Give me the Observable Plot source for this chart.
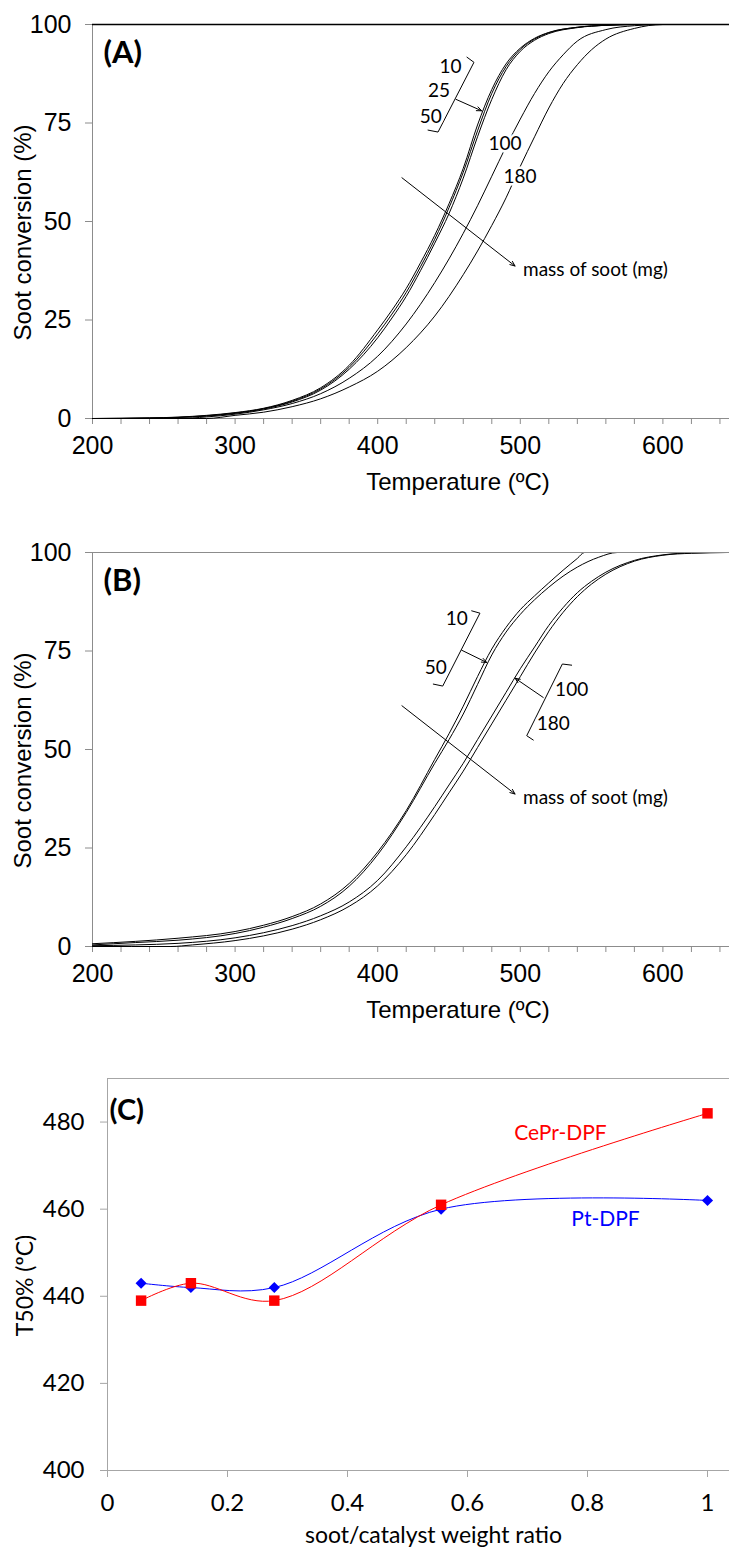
<!DOCTYPE html>
<html><head><meta charset="utf-8">
<script src="https://cdn.jsdelivr.net/npm/d3@7"></script>
<script src="https://cdn.jsdelivr.net/npm/@observablehq/plot@0.6"></script>
<style>
body{margin:0;background:#fff;}
#wrap{position:relative;width:729px;height:1548px;overflow:hidden;background:#fff;}
.panel{position:absolute;left:0;}
</style></head><body><div id="wrap"></div>
<script>
// ---------- Panel A: soot conversion (%) vs temperature (ºC), mass of soot (mg)
const A10_T = [200,240,260,280,300,320,340,360,380,400,410,420,430,440,450,460,470,480,490,500,510,520,540,560,580,646];
const A10_C = [0,0.15,0.35,0.8,1.5,2.6,4.6,7.8,13.5,22.5,27.5,33,39.5,46.5,54.5,63.5,74.5,83.5,90,94,96.5,98,99.3,99.8,100,100];
const A25_T = [200,240,260,280,300,320,340,360,380,400,410,420,430,440,450,460,470,480,490,500,510,520,540,560,580,646];
const A25_C = [0,0.12,0.3,0.7,1.4,2.5,4.4,7.5,13,21.5,26.5,32,38.5,45.5,53.5,62.5,73,82.5,89.3,93.7,96.3,97.9,99.3,99.8,100,100];
const A50_T = [200,240,260,280,300,320,340,360,380,400,410,420,430,440,450,460,470,480,490,500,510,520,540,560,580,646];
const A50_C = [0,0.1,0.25,0.6,1.3,2.4,4.2,7.2,12.5,20.5,25.5,31,37.5,44.5,52,61,71.5,81,88.5,93.2,96,97.7,99.2,99.8,100,100];
const A100_T = [200,260,280,300,320,340,360,380,400,420,440,450,460,470,480,490,500,510,520,530,540,560,580,600,646];
const A100_C = [0,0,0.4,1.1,2.2,3.8,6.3,10.2,15.8,24,34.5,40.5,47,54,61.5,69,76,82.5,88,92.3,95.8,98.7,99.7,100,100];
const A180_T = [200,280,300,320,340,360,380,400,420,440,460,470,480,490,500,510,520,530,540,550,560,580,600,646];
const A180_C = [0,0,0.8,1.6,3,5,8,12,18,26,36.5,42.5,49,56,64,71.5,78.8,85,89.8,93.6,96.3,99,100,100];

// ---------- Panel B
const B10_T = [200,230,260,300,320,340,360,380,400,420,440,450,460,470,480,490,500,510,520,530,540,545,646];
const B10_C = [0.7,1.3,2.1,3.8,5.4,7.6,10.8,16,24,34.5,47.5,54,61,68.5,75.5,81,85.5,89,92.3,95.5,98.5,100,100];
const B50_T = [200,230,260,300,320,340,360,380,400,420,440,450,460,470,480,490,500,510,520,530,540,555,568,646];
const B50_C = [0.4,1,1.6,3.3,4.9,7.1,10.2,15.3,23.3,34,46.5,52.5,59,66.5,74,79.8,84.3,88,91.2,94,96.3,98.8,100,100];
const B100_T = [200,230,260,300,320,340,360,380,400,420,440,450,460,470,480,490,500,510,520,530,540,550,560,580,600,620,646];
const B100_C = [0.2,0.4,0.8,2.2,3.5,5.3,7.8,11.3,16.8,25.3,35.5,41,46.5,52.5,58.5,64.5,70.5,76,81.5,86,89.8,92.7,95,98,99.4,99.9,100];
const B180_T = [200,255,270,300,320,340,360,380,400,420,440,450,460,470,480,490,500,510,520,530,540,550,560,580,600,620,646];
const B180_C = [0,0,0.4,1.5,2.7,4.4,6.8,10.2,15.4,23.3,33.5,39,44.5,50.5,56.5,62.5,68.5,74.5,80,84.8,88.8,92,94.5,97.8,99.3,99.8,100];

const xTicksAB = [200,300,400,500,600];
const xMinorAB = [220,240,260,280,320,340,360,380,420,440,460,480,520,540,560,580,620,640];
const yTicksAB = [0,25,50,75,100];

// ---------- Panel C: T50% (ºC) vs soot/catalyst weight ratio
const ratio = [0.056,0.139,0.278,0.556,1];
const ptDPF = [443,442,442,460,462];
const ceprDPF = [439,443,439,461,482];
const xTicksC = [0,0.2,0.4,0.6,0.8,1];
const yTicksC = [400,420,440,460,480];

// ---------- annotations (data coordinates)
const annotA = [
  {label:"10", T:451, C:89.2}, {label:"25", T:443, C:83.1}, {label:"50", T:437.2, C:76.5},
  {label:"100", T:489.3, C:69.6}, {label:"180", T:499.8, C:61.3}
];
const bracketA = [{g:1,T:462.6,C:91.7},{g:1,T:467.5,C:90.4},{g:1,T:442.3,C:72.7},{g:1,T:435.3,C:73.2}];
const arrowsA = [{T1:454.9,C1:81.0,T2:472.9,C2:78.1},{T1:417,C1:61.1,T2:496.3,C2:38.7}];
const annotB = [
  {label:"10", T:455.4, C:83.1}, {label:"50", T:440.7, C:70.7},
  {label:"100", T:536, C:65.1}, {label:"180", T:523.1, C:56.6}
];
const bracketB = [
  {g:1,T:465.9,C:85.2},{g:1,T:471.7,C:84.6},{g:1,T:445.6,C:66.1},{g:1,T:439,C:66.6},
  {g:2,T:536,C:71.4},{g:2,T:529.5,C:71.7},{g:2,T:504.5,C:53.5},{g:2,T:509.1,C:52.4}
];
const arrowsB = [
  {T1:458.9,C1:75.2,T2:476.4,C2:72.1},{T1:516.1,C1:63.2,T2:496.3,C2:68.1},
  {T1:417,C1:61.1,T2:496.3,C2:38.7}
];
const massNote = [{label:"mass of soot (mg)", T:501.9, C:37.6}];

function rows(name, T, C){ return T.map((t,i)=>({mass:name, T:t, C:C[i]})); }
const dataA = [].concat(rows("10",A10_T,A10_C), rows("25",A25_T,A25_C), rows("50",A50_T,A50_C), rows("100",A100_T,A100_C), rows("180",A180_T,A180_C));
const dataB = [].concat(rows("10",B10_T,B10_C), rows("50",B50_T,B50_C), rows("100",B100_T,B100_C), rows("180",B180_T,B180_C));
const ptRows = ratio.map((r,i)=>({r, v:ptDPF[i]}));
const ceRows = ratio.map((r,i)=>({r, v:ceprDPF[i]}));

const AX = "#8c8c8c";
const annFont = "Lato, 'Open Sans', sans-serif";

function curvePanel(letter, data, annot, brackets, arrows, topStroke, topWidth, mTop, mBottom){
  return Plot.plot({
    width: 729, height: 520,
    marginLeft: 92, marginRight: 0, marginTop: mTop, marginBottom: mBottom,
    x: {domain: [200, 646.7]},
    y: {domain: [0, 100]},
    style: {fontFamily: "'Liberation Sans', Arial, sans-serif", fontSize: "24px", color: "#000", background: "transparent", overflow: "visible"},
    marks: [
      Plot.ruleY([0], {stroke: AX}),
      Plot.ruleX([200], {stroke: AX}),
      Plot.axisX({ticks: xMinorAB, tickSize: 6, stroke: AX, tickFormat: () => "", label: null}),
      Plot.axisX({ticks: xTicksAB, tickSize: 6, tickPadding: 12, stroke: AX, fontSize: 25, label: null}),
      Plot.axisY({ticks: yTicksAB, tickSize: 7, tickPadding: 14, stroke: AX, fontSize: 25, label: null}),
      Plot.line(data, {x: "T", y: "C", z: "mass", stroke: "#000", strokeWidth: 1, curve: "monotone-x"}),
      Plot.ruleY([100], {stroke: topStroke, strokeWidth: topWidth}),
      Plot.line(brackets, {x: "T", y: "C", z: "g", stroke: "#000", strokeWidth: 1}),
      Plot.arrow(arrows, {x1: "T1", y1: "C1", x2: "T2", y2: "C2", stroke: "#000", strokeWidth: 1, headLength: 8, headAngle: 45}),
      Plot.text(annot, {x: "T", y: "C", text: "label", fontFamily: annFont, fontSize: 19, fill: "#000", stroke: "#fff", strokeWidth: 5}),
      Plot.text(massNote, {x: "T", y: "C", text: "label", textAnchor: "start", fontFamily: annFont, fontSize: 19, fill: "#000"}),
      Plot.text([letter], {text: d => d, frameAnchor: "top-left", dx: 11, dy: 29, textAnchor: "start", lineAnchor: "middle", fontFamily: annFont, fontWeight: "bold", fontSize: 31}),
      Plot.text(["Soot conversion (%)"], {text: d => d, frameAnchor: "left", rotate: -90, dx: -69, dy: 11, textAnchor: "middle", lineAnchor: "middle", fontSize: 24}),
      Plot.text(["Temperature (ºC)"], {text: d => d, frameAnchor: "bottom", dx: 47, dy: 64, textAnchor: "middle", lineAnchor: "middle", fontSize: 24})
    ]
  });
}

const pA = curvePanel("(A)", dataA, annotA, bracketA, arrowsA, "#000", 1.6, 24, 102);
const pB = curvePanel("(B)", dataB, annotB, bracketB, arrowsB, AX, 1, 25, 101);

const CX = "#a6a6a6";
const pC = Plot.plot({
  width: 729, height: 508,
  marginLeft: 107, marginRight: 0, marginTop: 38, marginBottom: 78,
  x: {domain: [0, 622/600]},
  y: {domain: [400, 490]},
  style: {fontFamily: "Lato, 'Open Sans', sans-serif", fontSize: "23px", color: "#000", background: "transparent", overflow: "visible"},
  marks: [
    Plot.ruleY([490], {stroke: CX}),
    Plot.ruleY([400], {stroke: CX}),
    Plot.ruleX([0], {stroke: CX}),
    Plot.axisX({ticks: xTicksC, tickSize: 7, tickPadding: 16, stroke: CX, fontSize: 24, tickFormat: d => String(d), label: null}),
    Plot.axisY({ticks: yTicksC, tickSize: 7, tickPadding: 16, stroke: CX, fontSize: 24, label: null}),
    Plot.line(ptRows, {x: "r", y: "v", stroke: "#0000ff", strokeWidth: 1, curve: "catmull-rom"}),
    Plot.line(ceRows, {x: "r", y: "v", stroke: "#ff0000", strokeWidth: 1, curve: "catmull-rom"}),
    Plot.dot(ptRows, {x: "r", y: "v", symbol: "diamond2", r: 5, fill: "#0000ff"}),
    Plot.dot(ceRows, {x: "r", y: "v", symbol: "square", r: 5.9, fill: "#ff0000"}),
    Plot.text(["CePr-DPF"], {text: d => d, x: [0.755], y: [477.4], fill: "#ff0000", fontSize: 21}),
    Plot.text(["Pt-DPF"], {text: d => d, x: [0.83], y: [457.6], fill: "#0000ff", fontSize: 21}),
    Plot.text(["(C)"], {text: d => d, frameAnchor: "top-left", dx: 2, dy: 32, textAnchor: "start", lineAnchor: "middle", fontWeight: "bold", fontSize: 29}),
    Plot.text(["T50% (ºC)"], {text: d => d, frameAnchor: "left", rotate: -90, dx: -82, dy: 11, textAnchor: "middle", lineAnchor: "middle", fontSize: 23}),
    Plot.text(["soot/catalyst weight ratio"], {text: d => d, frameAnchor: "bottom", dx: 15, dy: 65, textAnchor: "middle", lineAnchor: "middle", fontSize: 23})
  ]
});

const wrap = document.getElementById("wrap");
[[pA,0],[pB,527],[pC,1040]].forEach(([p,top]) => {
  const d = document.createElement("div");
  d.className = "panel"; d.style.top = top + "px";
  d.appendChild(p); wrap.appendChild(d);
});
</script></body></html>
